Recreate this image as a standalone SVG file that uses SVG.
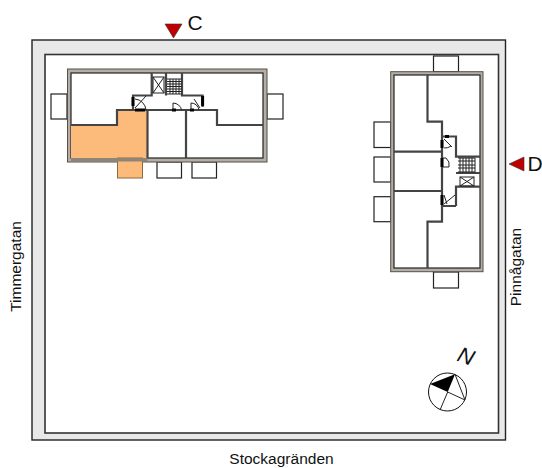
<svg xmlns="http://www.w3.org/2000/svg" width="542" height="468" viewBox="0 0 542 468">
<style>
text{font-family:"Liberation Sans",Arial,sans-serif;fill:#111}
.lbl{font-size:15.500px}
.big{font-size:21px}
.wall{fill:none;stroke:#444;stroke-width:2.200}
.thin{fill:none;stroke:#222;stroke-width:1}
.bal{fill:#fff;stroke:#222;stroke-width:1.200}
.shell{fill:#b4aea6;stroke:#55504a;stroke-width:1}
.oi{fill:#fff;stroke:#222;stroke-width:1.200}
.mark{fill:#c00000;stroke:#333;stroke-width:.6}
.jamb{fill:none;stroke:#000;stroke-width:3}
</style>
<g id="site">
<rect x="32" y="40" width="473.500" height="400" fill="#e8e8e8" stroke="#222" stroke-width="1.400"/>
<rect x="45" y="54.500" width="453.500" height="378.500" fill="#fff" stroke="#333" stroke-width="1.600"/>
</g>
<g id="building-c">
<rect class="bal" x="51" y="94" width="16" height="25"/>
<rect class="bal" x="267" y="94" width="16" height="25"/>
<rect class="bal" x="157" y="162" width="24.500" height="16"/>
<rect class="bal" x="192" y="162" width="24.500" height="16"/>
<rect class="shell" x="67.500" y="69" width="199.500" height="93"/>
<rect class="oi" x="71" y="73" width="192" height="85"/>
<path d="M71 125H117V110H147.500V158H71Z" fill="#fdbb7b"/>
<rect x="117.500" y="158" width="25" height="20" fill="#fdbb7b" stroke="#8a6a40"/>
<rect x="71" y="158" width="76.500" height="3.500" fill="#8f8478"/>
<path class="wall" d="M71 125H117V110H217V125H263"/>
<path class="wall" d="M147.500 110V158M186 110V158"/>
<path class="wall" d="M133 110V95.500H151.700V73M166 73V95.500M182 73V95.500H202.600V107"/>
<rect class="thin" x="153" y="77" width="11" height="16"/>
<path class="thin" d="M153 77L164 93M164 77L153 93"/>
<path class="thin" d="M167 79H181.700M167 81.500H181.700M167 84H181.700M167 86.500H181.700M167 89H181.700M167 91.500H181.700M167 94H181.700M170 79V94M173 79V94M176 79V94M179 79V94"/>
<path class="jamb" d="M133 97V106M202.600 96V106M135 110H145M172 110H176M190 110H194"/>
<path class="thin" d="M135 108L146 96M135 99A12 12 0 0 1 146 110"/>
<path class="thin" d="M173 110V103A9 8 0 0 1 181.500 110"/>
<path class="thin" d="M191 110V103A8 8 0 0 1 199 110"/>
<path class="thin" d="M200 108L194 99"/>
</g>
<g id="building-d">
<rect class="bal" x="433.500" y="56" width="25" height="15.700"/>
<rect class="bal" x="433.500" y="272" width="25" height="16"/>
<rect class="bal" x="374" y="122" width="16.700" height="25.500"/>
<rect class="bal" x="374" y="157" width="16.700" height="25"/>
<rect class="bal" x="374" y="196.700" width="16.700" height="25"/>
<rect class="shell" x="390.700" y="71.700" width="92.300" height="200"/>
<rect class="oi" x="394" y="75" width="86" height="193"/>
<path class="wall" d="M427.500 75V121.700H442V221.700H427.500V268"/>
<path class="wall" d="M394 151.700H442M394 191H442"/>
<path class="wall" d="M442 136.500H456V156.700H480M456 173H480M456 206V186.700H480M442 206H456"/>
<rect class="thin" x="460" y="177" width="14" height="9"/>
<path class="thin" d="M460 177L474 186M474 177L460 186"/>
<path class="thin" d="M458 158H475M458 172H475M460 158V172M463 158V172M466 158V172M469 158V172M472 158V172M475 158V172M458 161H475M458 165H475M458 168H475"/>
<path class="jamb" d="M442 140V148M442 158V167M442 195V205M445 136.500H449"/>
<path class="thin" d="M444 139L452 147M444 148A10 10 0 0 0 451 146"/>
<path class="thin" d="M443 158H446A9 9 0 0 1 449 167H443"/>
<path class="thin" d="M444 204L455 195M444 195L447 204"/>
</g>
<g id="compass">
<circle cx="447.500" cy="392" r="19" fill="#fff" stroke="#111" stroke-width="1"/>
<path d="M430 384L455 374.300L447.700 392Z" fill="#000"/>
<path class="thin" d="M455 374.300L465 400M447.700 392L465 400M447.700 392L440 410"/>
<text x="0" y="0" font-size="22" font-style="italic" transform="translate(456 360.500) rotate(20)">N</text>
</g>
<g id="labels">
<polygon class="mark" points="165,24 182,24 173.500,38"/>
<text class="big" x="187.500" y="30">C</text>
<polygon class="mark" points="509,164 524,157 524,171"/>
<text class="big" x="527.500" y="171">D</text>
<text class="lbl" transform="translate(21 266.500) rotate(-90)" text-anchor="middle">Timmergatan</text>
<text class="lbl" transform="translate(521 267) rotate(-90)" text-anchor="middle">Pinnågatan</text>
<text class="lbl" x="281.500" y="464" text-anchor="middle">Stockagränden</text>
</g>
</svg>
